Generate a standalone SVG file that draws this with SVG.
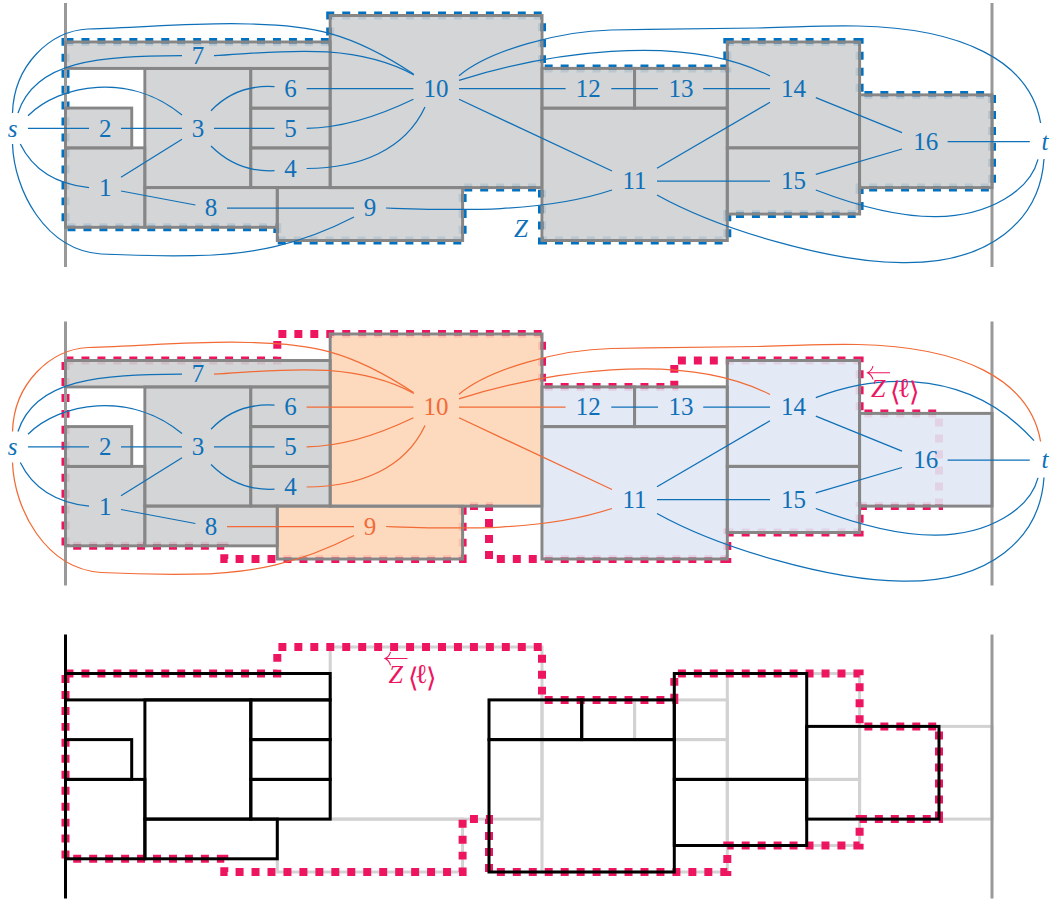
<svg xmlns="http://www.w3.org/2000/svg" width="1051" height="901" viewBox="0 0 1051 901">
<style>
text{font-family:"Liberation Serif",serif;font-size:25px;text-anchor:middle}
.i{font-style:italic}
.lb{fill:#0f70b7}.lo{fill:#f26b38}
.fg{fill:#ced0d3;fill-opacity:.9}.fo{fill:#fdd5b6;fill-opacity:.9}.fb{fill:#e0e7f4;fill-opacity:.9}
.o{fill:none;stroke:#868686;stroke-width:3}
.lt{fill:none;stroke:#d2d2d2;stroke-width:3}
.bk{fill:none;stroke:#000;stroke-width:3}
.wall{stroke:#999;stroke-width:3;fill:none}
.dash{fill:none;stroke-dasharray:7.98 7.98;stroke-width:8}
.db{stroke:#0070c0}.dp{stroke:#ee1560}
.e{fill:none;stroke-width:1.25}
.eb{stroke:#0f70b7}.eo{stroke:#f26a35}
.zl{fill:#ee1560;text-anchor:start;font-size:26px}
.br{font-size:27px}
.arr{fill:none;stroke:#ee1560;stroke-width:1.1}
</style>
<defs>
<g id="zlabel">
<path class="arr" d="M867.5 372.7H890M873 366Q872 370.500 867.500 372.700Q872 375 873 379.500"/>
<text class="zl" y="397.300"><tspan class="i" x="871">Z</tspan><tspan class="br" x="890" y="401">⟨</tspan><tspan class="br" x="897.500" y="397.300">ℓ</tspan><tspan class="br" x="908.500" y="401">⟩</tspan></text>
</g>
</defs>

<!-- PANEL 1 -->
<g id="panel1">
<path class="dash db" d="M65.5 42H330.2V15.5H542V68.4H727.3V42H859.6V94.9H992V187.6H859.6V214H727.3V240.5H542V187.6H462.6V240.5H277.3V227.3H65.5Z"/>
<g id="p1-walls"><path class="wall" d="M65.5 3V267M992 3V267"/></g>
<g id="p1-n1"><rect class="fg" x="67" y="149.4" width="76.4" height="76.4"/><rect class="o" x="65.5" y="147.9" width="79.4" height="79.4"/><text class="lb" x="105.2" y="196">1</text></g>
<g id="p1-n2"><rect class="fg" x="67" y="109.6" width="63.2" height="36.8"/><rect class="o" x="65.5" y="108.1" width="66.2" height="39.8"/><text class="lb" x="105.2" y="136.5">2</text></g>
<g id="p1-n3"><rect class="fg" x="146.4" y="69.9" width="102.9" height="116.2"/><rect class="o" x="144.9" y="68.4" width="105.9" height="119.2"/><text class="lb" x="197.9" y="136.5">3</text></g>
<g id="p1-n4"><rect class="fg" x="252.3" y="149.4" width="76.4" height="36.7"/><rect class="o" x="250.8" y="147.9" width="79.4" height="39.7"/><text class="lb" x="290.5" y="176.5">4</text></g>
<g id="p1-n5"><rect class="fg" x="252.3" y="109.6" width="76.4" height="36.8"/><rect class="o" x="250.8" y="108.1" width="79.4" height="39.8"/><text class="lb" x="290.5" y="136.5">5</text></g>
<g id="p1-n6"><rect class="fg" x="252.3" y="69.9" width="76.4" height="36.7"/><rect class="o" x="250.8" y="68.4" width="79.4" height="39.7"/><text class="lb" x="290.5" y="96.9">6</text></g>
<g id="p1-n7"><rect class="fg" x="67" y="43.5" width="261.7" height="23.4"/><rect class="o" x="65.5" y="42" width="264.7" height="26.4"/><text class="lb" x="197.9" y="63.7">7</text></g>
<g id="p1-n8"><rect class="fg" x="146.4" y="189.1" width="129.4" height="36.7"/><rect class="o" x="144.9" y="187.6" width="132.4" height="39.7"/><text class="lb" x="211" y="216">8</text></g>
<g id="p1-n9"><rect class="fg" x="278.8" y="189.1" width="182.3" height="49.9"/><rect class="o" x="277.3" y="187.6" width="185.3" height="52.9"/><text class="lb" x="369.9" y="216">9</text></g>
<g id="p1-n10"><rect class="fg" x="331.7" y="17" width="208.8" height="169.1"/><rect class="o" x="330.2" y="15.5" width="211.8" height="172.1"/><text class="lb" x="436" y="96.9">10</text></g>
<g id="p1-n11"><rect class="fg" x="543.5" y="109.6" width="182.3" height="129.4"/><rect class="o" x="542" y="108.1" width="185.3" height="132.4"/><text class="lb" x="634.6" y="189.4">11</text></g>
<g id="p1-n12"><rect class="fg" x="543.5" y="69.9" width="89.6" height="36.7"/><rect class="o" x="542" y="68.4" width="92.6" height="39.7"/><text class="lb" x="588.3" y="96.9">12</text></g>
<g id="p1-n13"><rect class="fg" x="636.1" y="69.9" width="89.7" height="36.7"/><rect class="o" x="634.6" y="68.4" width="92.7" height="39.7"/><text class="lb" x="681" y="96.9">13</text></g>
<g id="p1-n14"><rect class="fg" x="728.8" y="43.5" width="129.3" height="102.9"/><rect class="o" x="727.3" y="42" width="132.3" height="105.9"/><text class="lb" x="793.4" y="96.9">14</text></g>
<g id="p1-n15"><rect class="fg" x="728.8" y="149.4" width="129.3" height="63.1"/><rect class="o" x="727.3" y="147.9" width="132.3" height="66.1"/><text class="lb" x="793.4" y="189.4">15</text></g>
<g id="p1-n16"><rect class="fg" x="861.1" y="96.4" width="129.4" height="89.7"/><rect class="o" x="859.6" y="94.9" width="132.4" height="92.7"/><text class="lb" x="925.8" y="149.6">16</text></g>
<g id="p1-s"><text class="lb i" x="12.6" y="136.5">s</text></g>
<g id="p1-t"><text class="lb i" x="1045" y="149.6">t</text></g>
<text class="lb i" x="521" y="237">Z</text>
<g id="p1-connectors" class="e eb">
<path d="M28 128.3H89"/><path d="M121 128.3H182"/><path d="M214 128.3H274.5"/>
<path d="M306.6 128.3C345 128 385 113 413.4 99.3"/>
<path d="M306.6 168.5C360 168 405 150 425 107"/>
<path d="M306.6 88.5H413.4"/>
<path d="M211 110.7C228 93 250 85 274.5 86.7"/>
<path d="M211 146C228 163 250 172 274.5 170.7"/>
<path d="M28 115.7C60 84 130 72 182 115"/>
<path d="M20.3 144C32 168 55 184 89 187.7"/>
<path d="M121 177.3L182 139.3"/>
<path d="M121 191L195.4 205"/>
<path d="M227 208H354"/>
<path d="M386 208C450 210 540 214 612 190"/>
<path d="M18 113C35 60 100 56 182 55.7"/>
<path d="M214 55.7C270 53 350 40 414 75"/>
<path d="M12.5 113C14 65 50 31 88 29C150 27 205 22 250 24C310 25 350 32 413.5 74"/>
<path d="M12.5 144C14 190 45 250 101 254C140 256 170 256 193 255.7C250 255 300 245 354 217"/>
<path d="M459 88.5H565.6"/><path d="M611.3 88.5H658"/><path d="M703.2 88.5H770"/>
<path d="M459 99.3L612 171"/>
<path d="M459 80.3C540 55 680 30 770 76"/>
<path d="M459 75.7C490 50 560 31 611 30C660 29 710 28.5 757 28C800 27 830 25 858 26C960 28 1030 60 1040.6 123"/>
<path d="M657 168.3L770 102.3"/>
<path d="M657 181H770"/>
<path d="M657 195C720 230 830 262 902 262.7C990 264 1040 220 1044 159"/>
<path d="M815.8 174.3L902 149"/>
<path d="M815.8 97.7L902 132.7"/>
<path d="M947.6 141.7H1029.8"/>
<path d="M815.8 190C860 207 900 217 936 216.7C990 216 1030 190 1038 159.3"/>
</g>
</g>

<!-- PANEL 2 -->
<g id="panel2" transform="translate(0 318.5)">
<path class="dash dp" d="M65.5 42H277.3V15.5H542V68.4H674.3V42H859.6V94.9H939V187.6H859.6V214H727.3V240.5H489V187.6H462.6V240.5H224.3V227.3H65.5Z"/>
<g id="p2-walls"><path class="wall" d="M65.5 3V267M992 3V267"/></g>
<g id="p2-n1"><rect class="fg" x="67" y="149.4" width="76.4" height="76.4"/><rect class="o" x="65.5" y="147.9" width="79.4" height="79.4"/><text class="lb" x="105.2" y="196">1</text></g>
<g id="p2-n2"><rect class="fg" x="67" y="109.6" width="63.2" height="36.8"/><rect class="o" x="65.5" y="108.1" width="66.2" height="39.8"/><text class="lb" x="105.2" y="136.5">2</text></g>
<g id="p2-n3"><rect class="fg" x="146.4" y="69.9" width="102.9" height="116.2"/><rect class="o" x="144.9" y="68.4" width="105.9" height="119.2"/><text class="lb" x="197.9" y="136.5">3</text></g>
<g id="p2-n4"><rect class="fg" x="252.3" y="149.4" width="76.4" height="36.7"/><rect class="o" x="250.8" y="147.9" width="79.4" height="39.7"/><text class="lb" x="290.5" y="176.5">4</text></g>
<g id="p2-n5"><rect class="fg" x="252.3" y="109.6" width="76.4" height="36.8"/><rect class="o" x="250.8" y="108.1" width="79.4" height="39.8"/><text class="lb" x="290.5" y="136.5">5</text></g>
<g id="p2-n6"><rect class="fg" x="252.3" y="69.9" width="76.4" height="36.7"/><rect class="o" x="250.8" y="68.4" width="79.4" height="39.7"/><text class="lb" x="290.5" y="96.9">6</text></g>
<g id="p2-n7"><rect class="fg" x="67" y="43.5" width="261.7" height="23.4"/><rect class="o" x="65.5" y="42" width="264.7" height="26.4"/><text class="lb" x="197.9" y="63.7">7</text></g>
<g id="p2-n8"><rect class="fg" x="146.4" y="189.1" width="129.4" height="36.7"/><rect class="o" x="144.9" y="187.6" width="132.4" height="39.7"/><text class="lb" x="211" y="216">8</text></g>
<g id="p2-n9"><rect class="fo" x="278.8" y="189.1" width="182.3" height="49.9"/><rect class="o" x="277.3" y="187.6" width="185.3" height="52.9"/><text class="lo" x="369.9" y="216">9</text></g>
<g id="p2-n10"><rect class="fo" x="331.7" y="17" width="208.8" height="169.1"/><rect class="o" x="330.2" y="15.5" width="211.8" height="172.1"/><text class="lo" x="436" y="96.9">10</text></g>
<g id="p2-n11"><rect class="fb" x="543.5" y="109.6" width="182.3" height="129.4"/><rect class="o" x="542" y="108.1" width="185.3" height="132.4"/><text class="lb" x="634.6" y="189.4">11</text></g>
<g id="p2-n12"><rect class="fb" x="543.5" y="69.9" width="89.6" height="36.7"/><rect class="o" x="542" y="68.4" width="92.6" height="39.7"/><text class="lb" x="588.3" y="96.9">12</text></g>
<g id="p2-n13"><rect class="fb" x="636.1" y="69.9" width="89.7" height="36.7"/><rect class="o" x="634.6" y="68.4" width="92.7" height="39.7"/><text class="lb" x="681" y="96.9">13</text></g>
<g id="p2-n14"><rect class="fb" x="728.8" y="43.5" width="129.3" height="102.9"/><rect class="o" x="727.3" y="42" width="132.3" height="105.9"/><text class="lb" x="793.4" y="96.9">14</text></g>
<g id="p2-n15"><rect class="fb" x="728.8" y="149.4" width="129.3" height="63.1"/><rect class="o" x="727.3" y="147.9" width="132.3" height="66.1"/><text class="lb" x="793.4" y="189.4">15</text></g>
<g id="p2-n16"><rect class="fb" x="861.1" y="96.4" width="129.4" height="89.7"/><rect class="o" x="859.6" y="94.9" width="132.4" height="92.7"/><text class="lb" x="925.8" y="149.6">16</text></g>
<g id="p2-s"><text class="lb i" x="12.6" y="136.5">s</text></g>
<g id="p2-t"><text class="lb i" x="1045" y="149.6">t</text></g>
<g id="p2-connectors" class="e eb">
<path d="M28 128.3H89"/><path d="M121 128.3H182"/><path d="M214 128.3H274.5"/>
<path class="eo" d="M306.6 128.3C345 128 385 113 413.4 99.3"/>
<path class="eo" d="M306.6 168.5C360 168 405 150 425 107"/>
<path class="eo" d="M306.6 88.5H413.4"/>
<path d="M211 110.7C228 93 250 85 274.5 86.7"/>
<path d="M211 146C228 163 250 172 274.5 170.7"/>
<path d="M28 115.7C60 84 130 72 182 115"/>
<path d="M20.3 144C32 168 55 184 89 187.7"/>
<path d="M121 177.3L182 139.3"/>
<path d="M121 191L195.4 205"/>
<path class="eo" d="M227 208H354"/>
<path class="eo" d="M386 208C450 210 540 214 612 190"/>
<path d="M18 113C35 60 100 56 182 55.7"/>
<path class="eo" d="M214 55.7C270 53 350 40 414 75"/>
<path class="eo" d="M12.5 113C14 65 50 31 88 29C150 27 205 22 250 24C310 25 350 32 413.5 74"/>
<path class="eo" d="M12.5 144C14 190 45 250 101 254C140 256 170 256 193 255.7C250 255 300 245 354 217"/>
<path class="eo" d="M459 88.5H565.6"/><path d="M611.3 88.5H658"/><path d="M703.2 88.5H770"/>
<path class="eo" d="M459 99.3L612 171"/>
<path class="eo" d="M459 80.3C540 55 680 30 770 76"/>
<path class="eo" d="M459 75.7C490 50 560 31 611 30C660 29 710 28.5 757 28C800 27 830 25 858 26C960 28 1030 60 1040.6 123"/>
<path d="M815.8 79.2C860 62 960 40 1034 122.2"/>
<path d="M657 168.3L770 102.3"/>
<path d="M657 181H770"/>
<path d="M657 195C720 230 830 262 902 262.7C990 264 1040 220 1044 159"/>
<path d="M815.8 174.3L902 149"/>
<path d="M815.8 97.7L902 132.7"/>
<path d="M947.6 141.7H1029.8"/>
<path d="M815.8 190C860 207 900 217 936 216.7C990 216 1030 190 1038 159.3"/>
</g>
</g>
<g id="label-z1"><use href="#zlabel"/></g>

<!-- PANEL 3 -->
<g id="panel3" transform="translate(0 631.5)">
<g id="p3-base" class="lt">
<rect x="277.3" y="187.6" width="185.3" height="52.9"/>
<rect x="330.2" y="15.5" width="211.8" height="172.1"/>
<rect x="542" y="108.1" width="185.3" height="132.4"/>
<rect x="542" y="68.4" width="92.6" height="39.7"/>
<rect x="634.6" y="68.4" width="92.7" height="39.7"/>
<rect x="727.3" y="42" width="132.3" height="105.9"/>
<rect x="727.3" y="147.9" width="132.3" height="66.1"/>
<rect x="859.6" y="94.9" width="132.4" height="92.7"/>
</g>
<path class="dash dp" d="M65.5 42H277.3V15.5H542V68.4H674.3V42H859.6V94.9H939V187.6H859.6V214H727.3V240.5H489V187.6H462.6V240.5H224.3V227.3H65.5Z"/>
<g id="p3-walls"><path class="wall" d="M992 3V267"/><path class="bk" d="M65.5 3V267"/></g>
<g id="p3-regions" class="bk">
<rect id="p3-n1" x="65.5" y="147.9" width="79.4" height="79.4"/>
<rect id="p3-n2" x="65.5" y="108.1" width="66.2" height="39.8"/>
<rect id="p3-n3" x="144.9" y="68.4" width="105.9" height="119.2"/>
<rect id="p3-n4" x="250.8" y="147.9" width="79.4" height="39.7"/>
<rect id="p3-n5" x="250.8" y="108.1" width="79.4" height="39.8"/>
<rect id="p3-n6" x="250.8" y="68.4" width="79.4" height="39.7"/>
<rect id="p3-n7" x="65.5" y="42" width="264.7" height="26.4"/>
<rect id="p3-n8" x="144.9" y="187.6" width="132.4" height="39.7"/>
<rect id="p3-n11" x="489" y="108.1" width="185.3" height="132.4"/>
<rect id="p3-n12" x="489" y="68.4" width="92.7" height="39.7"/>
<rect id="p3-n13" x="581.7" y="68.4" width="92.6" height="39.7"/>
<rect id="p3-n14" x="674.3" y="42" width="132.4" height="105.9"/>
<rect id="p3-n15" x="674.3" y="147.9" width="132.4" height="66.1"/>
<rect id="p3-n16" x="806.7" y="94.9" width="132.3" height="92.7"/>
</g>
</g>
<g id="label-z2" transform="translate(-482.500 285.800)"><use href="#zlabel"/></g>
</svg>
